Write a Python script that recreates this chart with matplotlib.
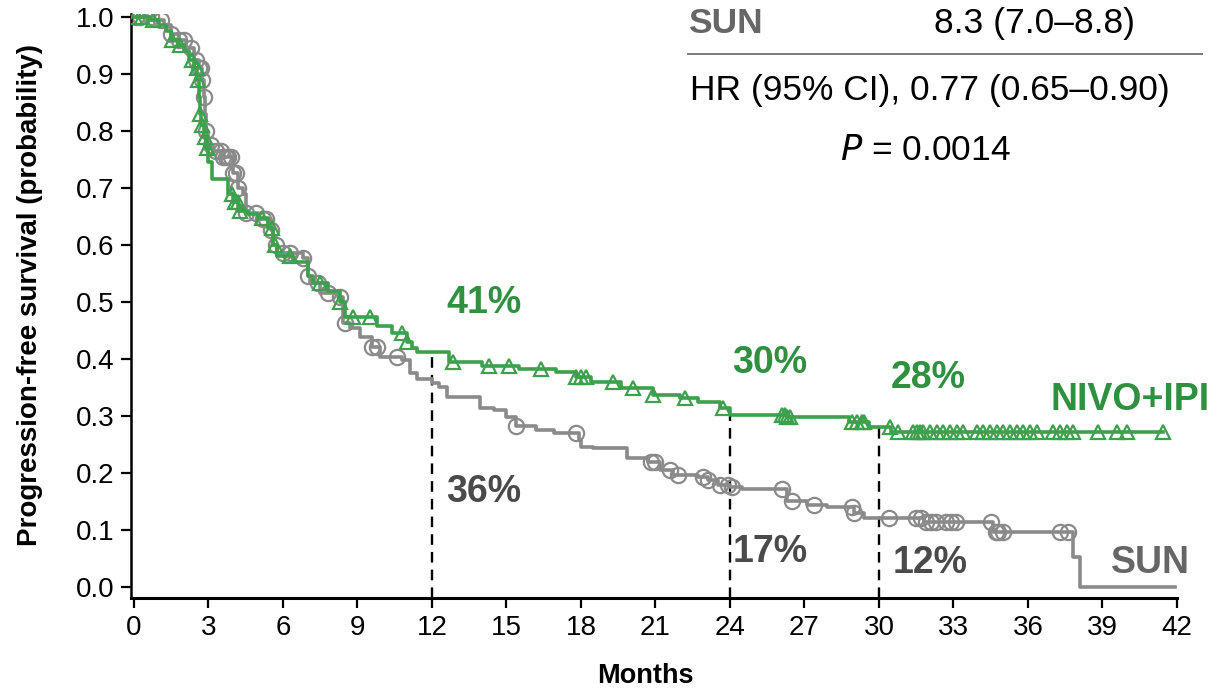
import numpy as np
import matplotlib
matplotlib.use("Agg")
import matplotlib.pyplot as plt
from matplotlib.lines import Line2D

plt.rcParams['font.family'] = ['Liberation Sans', 'DejaVu Sans']

# ---------------- data ----------------
# NIVO+IPI step function (time in months, survival probability after the step)
nivo_t = [0, 0.6, 1.0, 1.3, 1.5, 1.8, 2.0, 2.2, 2.4, 2.55, 2.6, 2.65, 2.7, 2.8, 2.9, 3.0,
          3.15, 3.8, 4.0, 4.2, 4.6, 5.0, 5.4, 5.6, 5.75, 6.4, 7.0, 7.2, 7.8, 8.3, 8.5,
          9.8, 10.4, 11.0, 11.2, 11.4, 12.7, 14.0, 15.5, 17.0, 17.8, 18.4, 19.6, 20.9,
          22.0, 22.7, 23.6, 24.0, 26.3, 28.8, 29.6, 30.5]
nivo_s = [1.0, 0.995, 0.985, 0.975, 0.96, 0.95, 0.94, 0.925, 0.91, 0.89, 0.86, 0.83, 0.81,
          0.79, 0.77, 0.745, 0.715, 0.69, 0.675, 0.66, 0.655, 0.648, 0.63, 0.60, 0.58,
          0.57, 0.545, 0.533, 0.52, 0.50, 0.474, 0.458, 0.445, 0.43, 0.419, 0.413, 0.395,
          0.387, 0.382, 0.377, 0.368, 0.36, 0.349, 0.337, 0.331, 0.325, 0.314, 0.302,
          0.298, 0.29, 0.28, 0.272]
nivo_end = 41.44
nivo_cens = [0.04, 0.32, 0.77, 1.53, 1.85, 2.34, 2.54, 2.58, 2.66, 2.74, 2.86, 2.94,
             3.95, 4.07, 4.19, 4.27, 5.15, 5.56, 5.68, 6.28, 7.5, 8.3, 8.8, 9.5, 10.8,
             11.0, 12.85, 14.3, 15.1, 16.4, 17.8, 18.0, 18.2, 19.3, 20.1, 20.9, 22.2,
             23.7, 26.1, 26.2, 26.3, 26.4, 28.9, 29.1, 29.3, 29.4, 30.45, 30.77, 31.37,
             31.53, 31.65, 31.77, 32.06, 32.34, 32.58, 32.86, 33.15, 33.39, 33.95, 34.19,
             34.47, 34.76, 35.0, 35.28, 35.56, 35.8, 36.09, 36.37, 37.01, 37.29, 37.58,
             37.82, 38.82, 39.59, 39.99, 41.44]

# SUN step function
sun_t = [0, 0.8, 1.2, 1.5, 1.8, 2.1, 2.4, 2.6, 2.75, 2.8, 2.85, 2.9, 3.0, 3.2, 3.6, 4.0,
         4.2, 4.4, 4.5, 5.0, 5.5, 5.6, 5.75, 6.8, 7.0, 7.1, 7.5, 8.2, 8.4, 8.7, 9.1, 9.6,
         9.9, 10.8, 11.1, 11.4, 12.0, 12.3, 12.6, 13.95, 14.5, 15.0, 15.4, 16.2, 16.9,
         17.9, 18.0, 18.5, 19.85, 20.7, 21.2, 21.7, 22.7, 23.1, 23.5, 24.0, 24.5, 26.3,
         27.1, 27.9, 29.0, 29.4, 31.8, 34.6, 37.8, 38.1]
sun_s = [1.0, 0.995, 0.985, 0.97, 0.96, 0.945, 0.925, 0.91, 0.89, 0.86, 0.83, 0.80, 0.775,
         0.765, 0.755, 0.726, 0.70, 0.69, 0.656, 0.645, 0.626, 0.60, 0.586, 0.577, 0.545,
         0.533, 0.516, 0.509, 0.463, 0.454, 0.439, 0.421, 0.404, 0.398, 0.375, 0.365,
         0.358, 0.35, 0.333, 0.314, 0.31, 0.298, 0.283, 0.275, 0.27, 0.258, 0.246, 0.244,
         0.226, 0.22, 0.205, 0.196, 0.193, 0.188, 0.179, 0.175, 0.172, 0.15, 0.144, 0.14,
         0.13, 0.121, 0.114, 0.097, 0.053, 0.0]
sun_end = 41.9
sun_cens = [0.1, 0.25, 0.7, 1.1, 1.5, 1.8, 2.0, 2.3, 2.5, 2.6, 2.7, 2.75, 2.8, 2.9,
            3.1, 3.3, 3.5, 3.6, 3.7, 3.8, 3.9, 4.0, 4.1, 4.2, 4.5, 4.9, 5.2, 5.3, 5.5,
            5.7, 6.0, 6.3, 6.8, 7.0, 7.4, 7.8, 8.3, 8.5, 9.6, 9.8, 10.6, 15.4, 17.8,
            20.8, 21.0, 21.6, 21.9, 22.9, 23.1, 23.6, 23.9, 24.1, 26.1, 26.5, 27.4,
            28.9, 29.0, 30.4, 31.5, 31.7, 31.9, 32.1, 32.3, 32.7, 32.9, 33.1, 34.5,
            34.7, 34.8, 35.0, 37.3, 37.6]

landmarks = [12, 24, 30]
nivo_pct = ["41%", "30%", "28%"]
sun_pct = ["36%", "17%", "12%"]
xticks = list(range(0, 43, 3))
yticks = [round(0.1 * i, 1) for i in range(11)]

# ---------------- styles ----------------
GREEN = '#3da04c'
GREEN_TXT = '#2f9140'
GRAY = '#8a8a8a'
DARK = '#4a4a4a'
SUNTXT = '#666666'


def step_val(times, surv, x):
    idx = np.searchsorted(np.asarray(times), np.asarray(x), side='right') - 1
    return np.asarray(surv)[np.clip(idx, 0, len(surv) - 1)]


W, H = 1214, 692
fig = plt.figure(figsize=(W / 100, H / 100), dpi=100)
ax = fig.add_axes([131 / W, 1 - 598 / H, (1177 - 131) / W, (598 - 14) / H])
ymin, ymax = -0.0193, 1.005
ax.set_xlim(-0.12, 42)
ax.set_ylim(ymin, ymax)

# dashed landmark lines
for lm in landmarks:
    top = float(step_val(nivo_t, nivo_s, lm))
    ax.plot([lm, lm], [ymin, top], color='black', lw=1.7, dashes=(4.5, 3), zorder=1)

# SUN curve
st = list(sun_t) + [sun_end]
ss = list(sun_s) + [sun_s[-1]]
ax.plot(st, ss, drawstyle='steps-post', color=GRAY, lw=2.6, zorder=2)
ax.plot(sun_cens, step_val(sun_t, sun_s, sun_cens), ls='none', marker='o', ms=11,
        mfc='none', mec=GRAY, mew=1.6, zorder=2)

# NIVO+IPI curve
nt = list(nivo_t) + [nivo_end]
ns = list(nivo_s) + [nivo_s[-1]]
ax.plot(nt, ns, drawstyle='steps-post', color=GREEN, lw=2.6, zorder=3)
ax.plot(nivo_cens, step_val(nivo_t, nivo_s, nivo_cens), ls='none', marker='^', ms=10.5,
        mfc='none', mec=GREEN, mew=1.6, zorder=3)

# percentage labels
nivo_pos = [(14.1, 0.481), (25.6, 0.375), (32.0, 0.349)]
sun_pos = [(14.1, 0.149), (25.6, 0.044), (32.05, 0.024)]
for (x, y), s in zip(nivo_pos, nivo_pct):
    ax.text(x, y, s, color=GREEN_TXT, fontsize=27, fontweight='bold', ha='center', va='baseline')
for (x, y), s in zip(sun_pos, sun_pct):
    ax.text(x, y, s, color=DARK, fontsize=27, fontweight='bold', ha='center', va='baseline')
ax.text(36.9, 0.31, "NIVO+IPI", color=GREEN_TXT, fontsize=27, fontweight='bold',
        ha='left', va='baseline')
ax.text(40.95, 0.024, "SUN", color=SUNTXT, fontsize=27, fontweight='bold',
        ha='center', va='baseline')

# axes styling
for sp in ['top', 'right']:
    ax.spines[sp].set_visible(False)
ax.spines['left'].set_linewidth(1.8)
ax.spines['bottom'].set_linewidth(2.2)
ax.set_xticks(xticks)
ax.set_xticklabels([str(v) for v in xticks])
ax.set_yticks(yticks)
ax.set_yticklabels([f"{v:.1f}" for v in yticks])
ax.tick_params(axis='y', length=7, width=1.6, labelsize=20, pad=5)
ax.tick_params(axis='x', length=7.5, width=1.6, labelsize=20, pad=5)

ax.set_xlabel("Months", fontsize=19.5, fontweight='bold')
ax.set_ylabel("Progression-free survival (probability)", fontsize=20, fontweight='bold')
ax.xaxis.set_label_coords((645 - 131) / 1046, (598 - 663) / 584)
ax.yaxis.set_label_coords((43 - 131) / 1046, (598 - 295) / 584)

# top-right summary block
fs = 25.5
fig.text(688 / W, 1 - 33 / H, "SUN", color=SUNTXT, fontsize=fs, fontweight='bold',
         ha='left', va='baseline')
fig.text(1034 / W, 1 - 33 / H, "8.3 (7.0\u20138.8)", color='black', fontsize=fs,
         ha='center', va='baseline')
fig.add_artist(Line2D([688 / W, 1202 / W], [1 - 54 / H, 1 - 54 / H], color='#7a7a7a', lw=1.4))
fig.text(690 / W, 1 - 100 / H, "HR (95% CI), 0.77 (0.65\u20130.90)", color='black',
         fontsize=fs, ha='left', va='baseline')
fig.text(925 / W, 1 - 160 / H, r"$\mathit{P}$ = 0.0014", color='black', fontsize=fs,
         ha='center', va='baseline')

fig.savefig("out.png", dpi=100)
